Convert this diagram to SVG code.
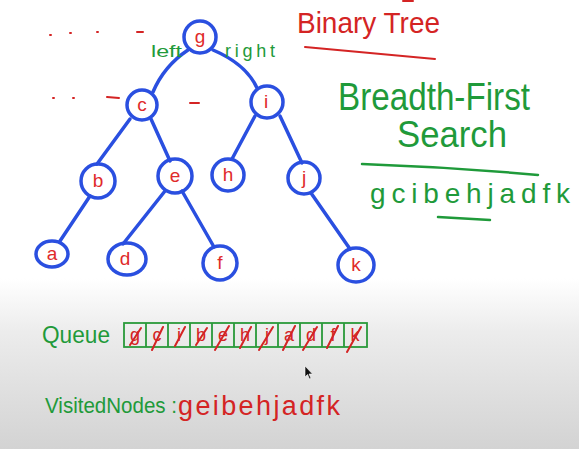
<svg xmlns="http://www.w3.org/2000/svg" width="579" height="449" viewBox="0 0 579 449">
<defs>
<linearGradient id="bg" x1="0" y1="0" x2="0" y2="449" gradientUnits="userSpaceOnUse">
<stop offset="0" stop-color="#ffffff"/>
<stop offset="0.62" stop-color="#ffffff"/>
<stop offset="0.74" stop-color="#ececec"/>
<stop offset="1" stop-color="#d3d3d3"/>
</linearGradient>
<style>
.node{fill:none;stroke:#2a4fe0;stroke-width:3.5}
.edge{fill:none;stroke:#2a4fe0;stroke-width:3.5;stroke-linecap:round}
.lbl{font-family:"Liberation Sans",Arial,sans-serif;font-size:19px;fill:#e02a2a;text-anchor:middle}
.green{font-family:"Liberation Sans",Arial,sans-serif;fill:#1f9a3a}
.red{font-family:"Liberation Sans",Arial,sans-serif;fill:#d42424}
.gline{stroke:#1f9a3a;stroke-width:2.5;fill:none;stroke-linecap:round}
.rline{stroke:#d42424;stroke-width:2;fill:none;stroke-linecap:round}
.cell{fill:none;stroke:#2a9a3a;stroke-width:1.8}
.qch{font-family:"Liberation Sans",Arial,sans-serif;font-size:18px;fill:#d42424;text-anchor:middle}
</style>
</defs>
<rect x="0" y="0" width="579" height="449" fill="url(#bg)"/>

<!-- red marks -->
<g id="marks" class="rline">
<path d="M50,35 l1,0 M70,33 l1,0 M97,32 l1,0 M137,32 l6,0 M53,98 l1,0 M73,98 l1,0 M107,97 l12,1 M190,103 l9,0 M403,1 l10,0"/>
</g>

<!-- connectors -->
<g id="connectors" class="edge">
<path d="M188,50 Q164,66 153,92"/>
<path d="M213,50 Q246,64 257,88"/>
<path d="M130,119 L97,164"/>
<path d="M151,119 L170,161"/>
<path d="M255,116 L232,159"/>
<path d="M280,116 L302,163"/>
<path d="M90,196 L60,241"/>
<path d="M165,191 L123,244"/>
<path d="M182,191 L214,247"/>
<path d="M311,193 L350,249"/>
</g>

<text class="green" x="151" y="57" font-size="17" textLength="31" lengthAdjust="spacingAndGlyphs">left</text>
<text class="green" x="225" y="57" font-size="18" textLength="50" lengthAdjust="spacing">right</text>

<g id="node-g"><circle class="node" cx="200" cy="37" r="16"/><text class="lbl" x="200" y="43">g</text></g>
<g id="node-c"><circle class="node" cx="142" cy="105" r="15"/><text class="lbl" x="142" y="111">c</text></g>
<g id="node-i"><circle class="node" cx="267" cy="102" r="16"/><text class="lbl" x="266" y="108">i</text></g>
<g id="node-b"><circle class="node" cx="98" cy="181" r="17"/><text class="lbl" x="98" y="187">b</text></g>
<g id="node-e"><circle class="node" cx="175" cy="176" r="17"/><text class="lbl" x="175" y="182">e</text></g>
<g id="node-h"><circle class="node" cx="228" cy="175" r="16"/><text class="lbl" x="228" y="181">h</text></g>
<g id="node-j"><circle class="node" cx="304" cy="178" r="16"/><text class="lbl" x="304" y="184">j</text></g>
<g id="node-a"><ellipse class="node" cx="52" cy="254" rx="16" ry="13"/><text class="lbl" x="52" y="260">a</text></g>
<g id="node-d"><ellipse class="node" cx="127" cy="259" rx="19" ry="16"/><text class="lbl" x="125" y="265">d</text></g>
<g id="node-f"><circle class="node" cx="220" cy="263" r="17"/><text class="lbl" x="220" y="269">f</text></g>
<g id="node-k"><ellipse class="node" cx="356" cy="265" rx="18" ry="17"/><text class="lbl" x="356" y="271">k</text></g>

<!-- titles -->
<text class="red" x="297" y="33" font-size="30" textLength="143" lengthAdjust="spacingAndGlyphs">Binary Tree</text>
<path class="rline" d="M305,47 L435,59"/>
<text class="green" x="338" y="110" font-size="38" textLength="192" lengthAdjust="spacingAndGlyphs">Breadth-First</text>
<text class="green" x="397" y="147" font-size="36" textLength="110" lengthAdjust="spacingAndGlyphs">Search</text>
<path class="gline" d="M362,164 Q450,167 538,175"/>
<text class="green" x="370" y="203" font-size="28" textLength="200" lengthAdjust="spacing">gcibehjadfk</text>
<path class="gline" d="M438,217 L490,220"/>

<!-- queue -->
<text class="green" x="42" y="343" font-size="24" textLength="68" lengthAdjust="spacingAndGlyphs">Queue</text>
<g id="queue">
<rect class="cell" x="124" y="323" width="243" height="24"/>
<path class="cell" d="M146,323 V347 M168,323 V347 M190,323 V347 M212,323 V347 M234,323 V347 M256,323 V347 M278,323 V347 M300,323 V347 M322,323 V347 M344,323 V347"/>
<text class="qch" x="135" y="341">g</text>
<text class="qch" x="157" y="341">c</text>
<text class="qch" x="179" y="341">i</text>
<text class="qch" x="201" y="341">b</text>
<text class="qch" x="223" y="341">e</text>
<text class="qch" x="245" y="341">h</text>
<text class="qch" x="267" y="341">j</text>
<text class="qch" x="289" y="341">a</text>
<text class="qch" x="311" y="341">d</text>
<text class="qch" x="333" y="341">f</text>
<text class="qch" x="355" y="341">k</text>
<path class="rline" d="M141,328 L130,345 M163,327 L152,350 M185,327 L175,346 M207,328 L196,345 M229,326 L215,350 M251,327 L240,348 M273,327 L259,350 M295,326 L283,350 M317,327 L303,350 M338,326 L327,348 M361,327 L347,352"/>
</g>

<!-- visited -->
<text class="green" x="45" y="413" font-size="22" textLength="132" lengthAdjust="spacingAndGlyphs">VisitedNodes :</text>
<text class="red" x="178" y="415" font-size="27" textLength="162" lengthAdjust="spacing">geibehjadfk</text>

<!-- cursor -->
<path d="M305,366 L305,377 L307.5,374.5 L309.5,379 L311,378.3 L309,374 L312.5,374 Z" fill="#111" stroke="#fff" stroke-width="0.6"/>
</svg>
